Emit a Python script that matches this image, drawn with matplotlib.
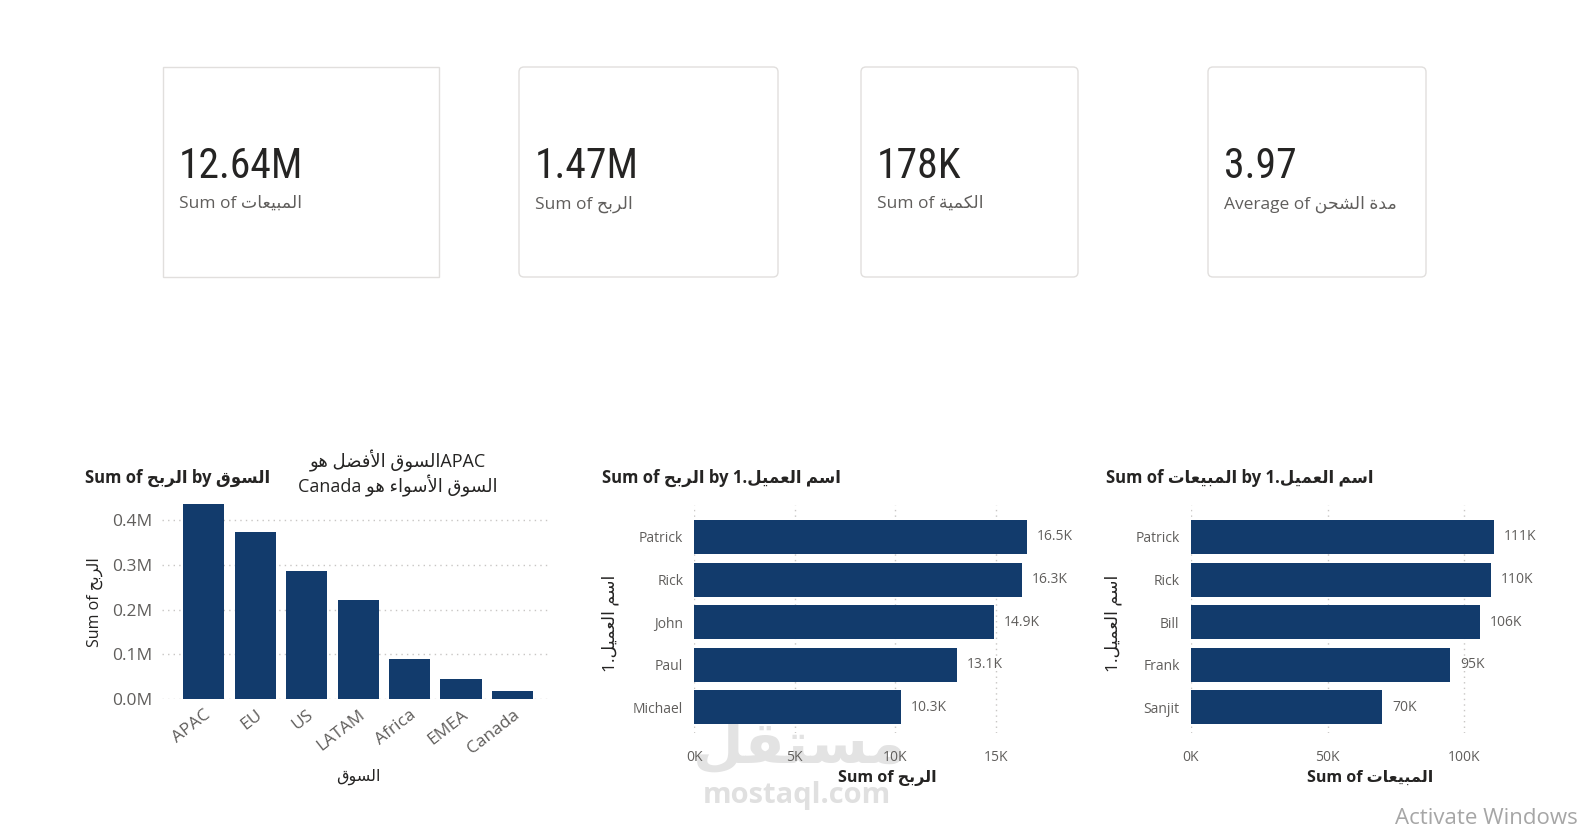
import matplotlib
matplotlib.use("Agg")
import matplotlib.pyplot as plt
from matplotlib.patches import FancyBboxPatch, Rectangle
from matplotlib.ticker import FuncFormatter

plt.rcParams['font.family'] = ['Open Sans', 'DejaVu Sans']

# ---- data ----
card_values = ["12.64M", "1.47M", "178K", "3.97"]
card_names = [("Sum of", "المبيعات"), ("Sum of", "الربح"), ("Sum of", "الكمية"), ("Average of", "مدة الشحن")]

markets = ["APAC", "EU", "US", "LATAM", "Africa", "EMEA", "Canada"]
market_profit = [436000, 373000, 286000, 221000, 89000, 44000, 18000]

profit_customers = ["Patrick", "Rick", "John", "Paul", "Michael"]
customer_profit = [16540, 16300, 14920, 13080, 10280]

sales_customers = ["Patrick", "Rick", "Bill", "Frank", "Sanjit"]
customer_sales = [110700, 109600, 105900, 94900, 70000]

BAR = "#123B6C"
DARK = "#252423"
GREY = "#605E5C"
GRID = "#C8C6C4"

# minimal arabic shaping (presentation forms) + visual reordering
FORMS = {
    'ء': ('\uFE80',),
    'أ': ('\uFE83', '\uFE84'),
    'ا': ('\uFE8D', '\uFE8E'),
    'ب': ('\uFE8F', '\uFE90', '\uFE91', '\uFE92'),
    'ة': ('\uFE93', '\uFE94'),
    'ت': ('\uFE95', '\uFE96', '\uFE97', '\uFE98'),
    'ح': ('\uFEA1', '\uFEA2', '\uFEA3', '\uFEA4'),
    'د': ('\uFEA9', '\uFEAA'),
    'ر': ('\uFEAD', '\uFEAE'),
    'س': ('\uFEB1', '\uFEB2', '\uFEB3', '\uFEB4'),
    'ش': ('\uFEB5', '\uFEB6', '\uFEB7', '\uFEB8'),
    'ض': ('\uFEBD', '\uFEBE', '\uFEBF', '\uFEC0'),
    'ع': ('\uFEC9', '\uFECA', '\uFECB', '\uFECC'),
    'ف': ('\uFED1', '\uFED2', '\uFED3', '\uFED4'),
    'ق': ('\uFED5', '\uFED6', '\uFED7', '\uFED8'),
    'ك': ('\uFED9', '\uFEDA', '\uFEDB', '\uFEDC'),
    'ل': ('\uFEDD', '\uFEDE', '\uFEDF', '\uFEE0'),
    'م': ('\uFEE1', '\uFEE2', '\uFEE3', '\uFEE4'),
    'ن': ('\uFEE5', '\uFEE6', '\uFEE7', '\uFEE8'),
    'ه': ('\uFEE9', '\uFEEA', '\uFEEB', '\uFEEC'),
    'و': ('\uFEED', '\uFEEE'),
    'ي': ('\uFEF1', '\uFEF2', '\uFEF3', '\uFEF4'),
}
LAM_ALEF = {'ا': ('\uFEFB', '\uFEFC'), 'أ': ('\uFEF7', '\uFEF8')}


def ar(text):
    toks = []
    i = 0
    while i < len(text):
        if text[i] == 'ل' and i + 1 < len(text) and text[i + 1] in LAM_ALEF:
            toks.append(('LA', text[i + 1]))
            i += 2
        else:
            toks.append((text[i], None))
            i += 1

    def dual(t):
        return t[0] in FORMS and len(FORMS[t[0]]) == 4

    def joinable(t):
        return t[0] == 'LA' or (t[0] in FORMS and len(FORMS[t[0]]) >= 2)

    out = []
    for k, t in enumerate(toks):
        p = k > 0 and dual(toks[k - 1])
        n = dual(t) and k + 1 < len(toks) and joinable(toks[k + 1])
        c, alef = t
        if c == 'LA':
            out.append(LAM_ALEF[alef][1 if p else 0])
        elif c in FORMS:
            f = FORMS[c]
            if len(f) == 1:
                out.append(f[0])
            elif len(f) == 2:
                out.append(f[1] if p else f[0])
            else:
                out.append(f[3] if (p and n) else f[1] if p else f[2] if n else f[0])
        else:
            out.append(c)
    return ''.join(reversed(out))


W, H = 1596, 827
fig = plt.figure(figsize=(W / 100, H / 100), dpi=100)
fig.patch.set_facecolor("white")


def pixel_layer():
    a = fig.add_axes([0, 0, 1, 1])
    a.set_xlim(0, W)
    a.set_ylim(H, 0)
    a.axis("off")
    a.patch.set_alpha(0)
    return a


# watermark goes in a layer beneath the charts
bg = pixel_layer()
bg.text(800, 746, ar("مستقل"), fontsize=42, fontweight="bold", color="#E3E3E3",
        ha="center", va="center", family=["DejaVu Sans"])
bg.text(797, 795, "mostaql.com", fontsize=21, fontweight="bold", color="#E0E0E0",
        ha="center", va="center")


def px_axes(left, top, right, bottom):
    a = fig.add_axes([left / W, 1 - bottom / H, (right - left) / W, (bottom - top) / H])
    a.patch.set_alpha(0)
    return a


def style(ax, grid_axis):
    for s in ax.spines.values():
        s.set_visible(False)
    ax.tick_params(length=0, colors=GREY)
    ax.grid(axis=grid_axis, color=GRID, linestyle=(0, (1, 3)), linewidth=1)
    ax.set_axisbelow(True)


# ---- market profit column chart ----
ax1 = px_axes(161.7, 502.5, 550, 698.7)
style(ax1, "y")
ax1.bar(range(len(markets)), market_profit, width=0.8, color=BAR)
ax1.set_xlim(-0.82, 6.73)
ax1.set_ylim(0, 440000)
ax1.set_yticks([0, 100000, 200000, 300000, 400000])
ax1.yaxis.set_major_formatter(FuncFormatter(lambda v, p: f"{v / 1e6:.1f}M"))
ax1.tick_params(axis="y", labelsize=12.5, pad=7)
ax1.set_xticks(range(len(markets)))
ax1.set_xticklabels(markets, rotation=38, ha="right", rotation_mode="anchor", fontsize=12.5)
ax1.tick_params(axis="x", pad=6)


def hbar(ax, names, vals, xmax, step, fmt):
    style(ax, "x")
    ax.barh(range(len(names)), vals, height=0.8, color=BAR)
    ax.set_ylim(4.6, -0.75)
    ax.set_xlim(0, xmax)
    ax.set_yticks(range(len(names)))
    ax.set_yticklabels(names, fontsize=10)
    ax.set_xticks([step * i for i in range(int(xmax // step) + 1)])
    ax.xaxis.set_major_formatter(FuncFormatter(lambda v, p: f"{v / 1000:.0f}K"))
    ax.tick_params(axis="y", pad=8)
    ax.tick_params(axis="x", labelsize=10, pad=12)
    for i, v in enumerate(vals):
        ax.annotate(fmt(v), (v, i), xytext=(7, 0), textcoords="offset points",
                    va="center", ha="left", fontsize=10, color=GREY)


ax2 = px_axes(694.3, 505, 1050, 733)
hbar(ax2, profit_customers, customer_profit, 17700, 5000, lambda v: f"{v / 1000:.1f}K")

ax3 = px_axes(1190.7, 505, 1530, 733)
hbar(ax3, sales_customers, customer_sales, 124000, 50000, lambda v: f"{v / 1000:.0f}K")

# ---- overlay in pixel coordinates: cards, titles, labels ----
ov = pixel_layer()

cards = [(163, 439), (519, 778), (861, 1078), (1208, 1426)]
for k, (x0, x1) in enumerate(cards):
    if k == 0:
        ov.add_patch(Rectangle((x0, 67), x1 - x0, 210, fill=False, edgecolor="#E1DFDD", lw=1))
    else:
        ov.add_patch(FancyBboxPatch((x0, 67), x1 - x0, 210, boxstyle="round,pad=0,rounding_size=5",
                                    fill=False, edgecolor="#E1DFDD", lw=1))
    ov.text(x0 + 16, 178, card_values[k], fontsize=30, color=DARK, ha="left", va="baseline",
            family=["Roboto Condensed", "DejaVu Sans Condensed", "Roboto"])
    ov.text(x0 + 16, 204, f"{card_names[k][0]} {ar(card_names[k][1])}", fontsize=12.5,
            color=GREY, ha="left", va="center")

tkw = dict(fontsize=12, fontweight="bold", color=DARK, ha="left", va="center")
ov.text(85, 478, f"Sum of {ar('الربح')} by {ar('السوق')}", **tkw)
ov.text(602, 478, f"Sum of {ar('الربح')} by 1.{ar('اسم العميل')}", **tkw)
ov.text(1106, 478, f"Sum of {ar('المبيعات')} by 1.{ar('اسم العميل')}", **tkw)

ov.text(398, 461, ar("السوق الأفضل هو") + "APAC", fontsize=13, color=DARK, ha="center", va="center")
ov.text(398, 486, "Canada " + ar("السوق الأسواء هو"), fontsize=13, color=DARK, ha="center", va="center")

lkw = dict(fontsize=11.5, color=DARK, ha="center", va="center")
ov.text(95, 602, f"Sum of {ar('الربح')}", rotation=90, **lkw)
ov.text(358, 777, ar("السوق"), **lkw)
ov.text(610, 623, f"1.{ar('اسم العميل')}", rotation=90, fontsize=12.5, color=DARK, ha="center", va="center")
ov.text(887, 778, f"Sum of {ar('الربح')}", fontweight="bold", **lkw)
ov.text(1113, 623, f"1.{ar('اسم العميل')}", rotation=90, fontsize=12.5, color=DARK, ha="center", va="center")
ov.text(1370, 778, f"Sum of {ar('المبيعات')}", fontweight="bold", **lkw)

ov.text(1395, 819, "Activate Windows", fontsize=16, color="#A6A6A6", ha="left", va="center")

fig.savefig("out.png", dpi=100)
